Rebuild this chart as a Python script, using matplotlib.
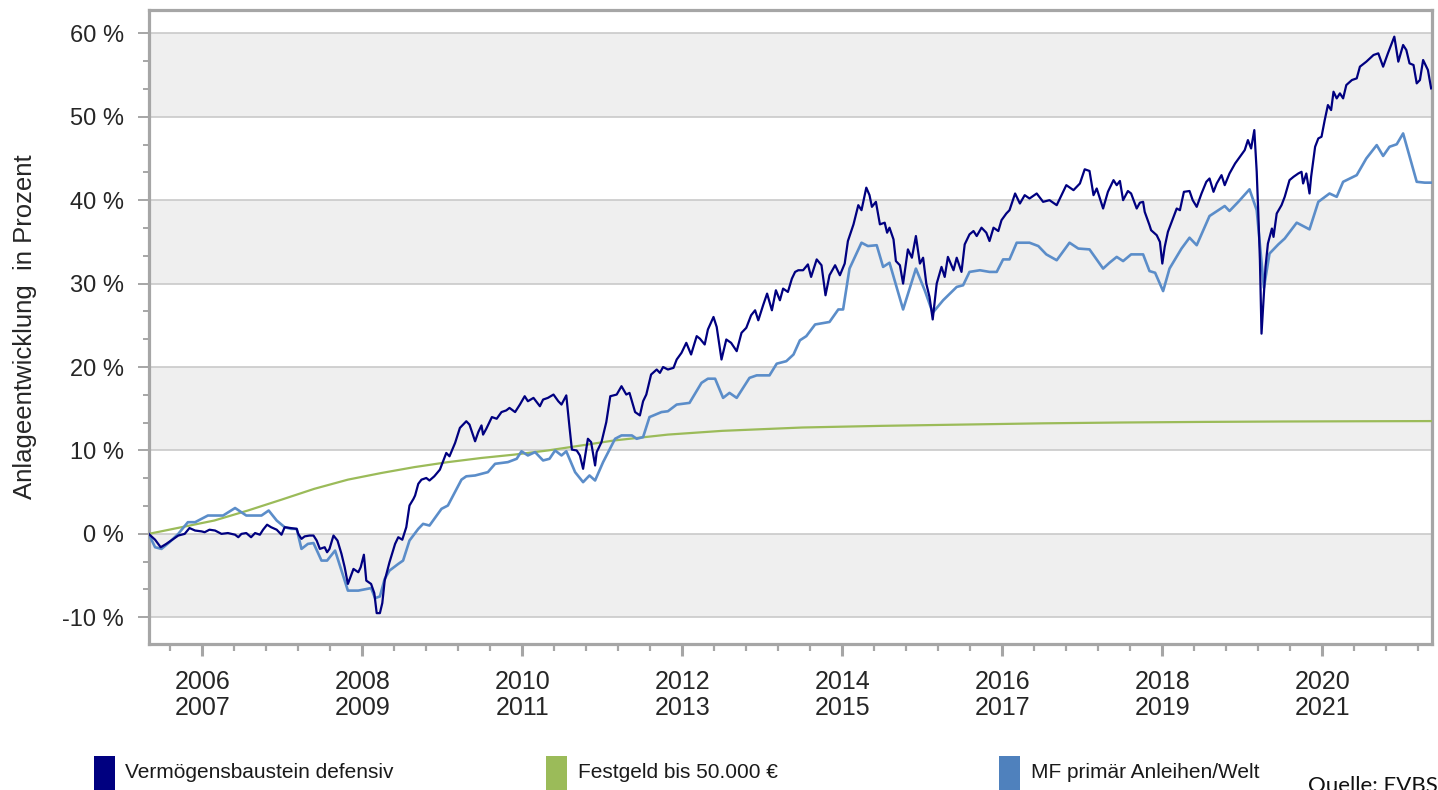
import matplotlib
matplotlib.use("Agg")
import matplotlib.pyplot as plt
from matplotlib.ticker import MultipleLocator, FixedLocator, FixedFormatter
from matplotlib.patches import Rectangle

plt.rcParams['font.family'] = ['Liberation Sans', 'DejaVu Sans']

# ---------------- data (decimal year, percent) ----------------
navy_t = [2005.33, 2005.41, 2005.48, 2005.55, 2005.64, 2005.70, 2005.78, 2005.84, 2005.91, 2005.99,
          2006.03, 2006.09, 2006.16, 2006.24, 2006.32, 2006.41, 2006.45, 2006.49, 2006.55, 2006.61,
          2006.66, 2006.72, 2006.76, 2006.81, 2006.86, 2006.93, 2006.99, 2007.03, 2007.11, 2007.18,
          2007.20, 2007.24, 2007.28, 2007.34, 2007.39, 2007.43, 2007.47, 2007.53, 2007.56, 2007.59,
          2007.64, 2007.69, 2007.74, 2007.78, 2007.82, 2007.89, 2007.95, 2007.98, 2008.02, 2008.05,
          2008.11, 2008.15, 2008.18, 2008.22, 2008.25, 2008.28, 2008.34, 2008.41, 2008.45, 2008.50,
          2008.55, 2008.59, 2008.64, 2008.66, 2008.70, 2008.74, 2008.80, 2008.84, 2008.90, 2008.97,
          2009.01, 2009.05, 2009.09, 2009.16, 2009.22, 2009.30, 2009.34,
          2009.41, 2009.45, 2009.49, 2009.51, 2009.55, 2009.62, 2009.68, 2009.74, 2009.80, 2009.84,
          2009.91, 2009.97, 2010.03, 2010.07, 2010.14, 2010.22, 2010.26, 2010.32, 2010.39, 2010.45,
          2010.49, 2010.55, 2010.59, 2010.62, 2010.68, 2010.72, 2010.76, 2010.80, 2010.82, 2010.86,
          2010.91, 2010.93, 2010.99, 2011.05, 2011.10, 2011.18, 2011.24, 2011.30, 2011.34, 2011.41,
          2011.47, 2011.51, 2011.55, 2011.61, 2011.68, 2011.72, 2011.76, 2011.82, 2011.89, 2011.93,
          2011.99, 2012.05, 2012.11, 2012.18, 2012.22, 2012.28, 2012.32, 2012.39, 2012.43, 2012.49,
          2012.55, 2012.61, 2012.68, 2012.74, 2012.80, 2012.86, 2012.91, 2012.95, 2013.01, 2013.06,
          2013.12, 2013.17, 2013.22, 2013.26, 2013.32, 2013.37, 2013.41,
          2013.45, 2013.51, 2013.57, 2013.61, 2013.68, 2013.74, 2013.79, 2013.84, 2013.91, 2013.97,
          2014.03, 2014.07, 2014.14, 2014.20, 2014.24, 2014.30, 2014.34, 2014.37, 2014.42, 2014.47,
          2014.53, 2014.56, 2014.59, 2014.64, 2014.67, 2014.72, 2014.76, 2014.82, 2014.87, 2014.92,
          2014.97, 2015.01, 2015.05, 2015.09, 2015.13, 2015.18, 2015.24, 2015.28, 2015.32, 2015.39,
          2015.43, 2015.49, 2015.53, 2015.59, 2015.64, 2015.68, 2015.74, 2015.80, 2015.84, 2015.89,
          2015.95, 2015.99, 2016.05, 2016.09, 2016.16, 2016.22, 2016.28, 2016.34, 2016.43, 2016.51,
          2016.59, 2016.68, 2016.74, 2016.80, 2016.89, 2016.97, 2017.03, 2017.09, 2017.14, 2017.18,
          2017.26, 2017.32,
          2017.39, 2017.43, 2017.47, 2017.51, 2017.57, 2017.61, 2017.68, 2017.72, 2017.76, 2017.78,
          2017.84, 2017.86, 2017.93, 2017.97, 2018.00, 2018.03, 2018.07, 2018.14, 2018.18, 2018.22,
          2018.27, 2018.34, 2018.38, 2018.43, 2018.49, 2018.55, 2018.59, 2018.64, 2018.68, 2018.74,
          2018.78, 2018.84, 2018.91, 2018.97, 2019.03, 2019.07, 2019.11, 2019.15, 2019.18, 2019.20,
          2019.22, 2019.24, 2019.26, 2019.29, 2019.32, 2019.37, 2019.39, 2019.43, 2019.49, 2019.53,
          2019.59, 2019.64, 2019.70, 2019.74, 2019.76, 2019.80, 2019.84, 2019.86, 2019.91, 2019.95,
          2019.99, 2020.03, 2020.07, 2020.11, 2020.14, 2020.18, 2020.22, 2020.26, 2020.30, 2020.37,
          2020.43, 2020.47, 2020.55, 2020.64, 2020.70, 2020.76, 2020.82, 2020.90, 2020.95, 2021.01,
          2021.05, 2021.09, 2021.14, 2021.18, 2021.22, 2021.26, 2021.32, 2021.36]
navy_v = [0.0, -0.7, -1.6, -1.2, -0.6, -0.2, 0.0, 0.7, 0.4, 0.3,
          0.2, 0.5, 0.4, 0.0, 0.1, -0.1, -0.4, 0.0, 0.1, -0.4,
          0.1, -0.1, 0.5, 1.1, 0.8, 0.5, -0.1, 0.8, 0.7, 0.6,
          0.0, -0.6, -0.3, -0.2, -0.2, -0.8, -1.8, -1.6, -2.2, -1.8,
          -0.2, -0.8, -2.4, -4.0, -6.0, -4.2, -4.6, -4.0, -2.5, -5.6,
          -6.0, -7.1, -9.5, -9.5, -8.3, -5.6, -3.4, -1.2, -0.4, -0.7,
          0.8, 3.4, 4.2, 4.6, 6.0, 6.5, 6.7, 6.4, 6.9, 7.7,
          8.7, 9.7, 9.3, 10.9, 12.7, 13.5, 13.1,
          11.1, 12.2, 13.0, 11.9, 12.6, 14.0, 13.8, 14.6, 14.8, 15.1,
          14.6, 15.5, 16.5, 15.9, 16.3, 15.3, 16.1, 16.3, 16.7, 15.9,
          15.5, 16.6, 12.8, 10.1, 10.0, 9.4, 7.8, 10.2, 11.4, 11.0,
          8.2, 9.8, 11.0, 13.4, 16.5, 16.7, 17.7, 16.7, 16.9, 14.6,
          14.2, 15.9, 16.7, 19.1, 19.7, 19.3, 20.0, 19.7, 19.9, 20.9,
          21.7, 22.9, 21.5, 23.7, 23.4, 22.7, 24.5, 26.0, 24.8, 20.9,
          23.3, 22.9, 21.9, 24.1, 24.7, 26.2, 26.8, 25.6, 27.4, 28.8,
          26.8, 29.2, 28.0, 29.4, 29.0, 30.6, 31.4,
          31.6, 31.6, 32.3, 30.8, 32.9, 32.2, 28.6, 31.0, 32.2, 31.0,
          32.4, 35.1, 37.1, 39.4, 38.8, 41.5, 40.6, 39.2, 39.8, 37.1,
          37.3, 36.1, 36.7, 35.3, 32.7, 32.2, 30.0, 34.1, 33.1, 35.7,
          32.4, 33.1, 30.0, 28.4, 25.7, 30.0, 32.0, 30.8, 33.2, 31.6,
          33.1, 31.4, 34.7, 35.9, 36.3, 35.7, 36.7, 36.1, 35.1, 36.7,
          36.3, 37.6, 38.4, 38.8, 40.8, 39.6, 40.6, 40.2, 40.8, 39.8,
          40.0, 39.4, 40.6, 41.8, 41.2, 42.0, 43.7, 43.5, 40.6, 41.4,
          39.0, 41.0,
          42.4, 41.8, 42.3, 40.0, 41.1, 40.8, 39.0, 39.7, 39.8, 38.6,
          37.0, 36.4, 35.8, 35.0, 32.4, 34.4, 36.2, 38.0, 39.0, 38.8,
          41.0, 41.1, 40.0, 39.2, 40.8, 42.2, 42.6, 41.0, 42.0, 43.0,
          41.8, 43.2, 44.4, 45.2, 46.0, 47.2, 46.2, 48.4, 43.4, 38.4,
          32.8, 24.0, 27.2, 32.0, 34.8, 36.6, 35.6, 38.4, 39.4, 40.4,
          42.4, 42.8, 43.2, 43.4, 42.0, 43.2, 40.8, 42.8, 46.4, 47.4,
          47.6, 49.6, 51.4, 50.8, 53.0, 52.2, 52.8, 52.2, 53.8, 54.4,
          54.6, 56.0, 56.6, 57.4, 57.6, 56.0, 57.6, 59.6, 56.6, 58.6,
          58.0, 56.4, 56.2, 54.0, 54.4, 56.8, 55.6, 53.4]

mf_t = [2005.33, 2005.41, 2005.49, 2005.59, 2005.70, 2005.82, 2005.91, 2006.07, 2006.26, 2006.41,
        2006.55, 2006.74, 2006.83, 2006.93, 2007.03, 2007.11, 2007.18, 2007.24, 2007.32, 2007.39,
        2007.49, 2007.56, 2007.66, 2007.82, 2007.95, 2008.11, 2008.16, 2008.22, 2008.28, 2008.34,
        2008.45, 2008.51, 2008.59, 2008.70, 2008.76, 2008.84, 2008.99, 2009.07, 2009.24, 2009.30,
        2009.41, 2009.49, 2009.57, 2009.66, 2009.82, 2009.93, 2009.99, 2010.07, 2010.16, 2010.26,
        2010.34, 2010.41, 2010.49, 2010.55, 2010.66, 2010.76, 2010.84, 2010.91, 2011.01, 2011.16,
        2011.24, 2011.37, 2011.43, 2011.51, 2011.59, 2011.74, 2011.82, 2011.93, 2012.09, 2012.24,
        2012.32, 2012.41, 2012.51, 2012.59, 2012.68, 2012.84, 2012.93, 2013.09, 2013.18, 2013.30,
        2013.39, 2013.47, 2013.55, 2013.66, 2013.84, 2013.95, 2014.01, 2014.09, 2014.24, 2014.32,
        2014.43, 2014.51, 2014.59, 2014.76, 2014.92, 2015.03, 2015.13, 2015.26, 2015.43, 2015.51,
        2015.59, 2015.72, 2015.84, 2015.93, 2016.01, 2016.09, 2016.18, 2016.34, 2016.45, 2016.55,
        2016.68, 2016.84, 2016.95, 2017.09, 2017.26, 2017.34, 2017.43, 2017.51, 2017.61, 2017.76,
        2017.84, 2017.91, 2018.01, 2018.09, 2018.24, 2018.34, 2018.43, 2018.59, 2018.78, 2018.84,
        2018.95, 2019.09, 2019.18, 2019.27, 2019.34, 2019.45, 2019.53, 2019.68, 2019.84, 2019.95,
        2020.09, 2020.18, 2020.26, 2020.43, 2020.55, 2020.68, 2020.76, 2020.84, 2020.93, 2021.01,
        2021.18, 2021.28, 2021.36]
mf_v = [0.0, -1.6, -1.8, -1.0, 0.0, 1.4, 1.4, 2.2, 2.2, 3.1,
        2.2, 2.2, 2.8, 1.6, 0.8, 0.6, 0.6, -1.8, -1.2, -1.1,
        -3.2, -3.2, -2.0, -6.8, -6.8, -6.5, -7.7, -7.5, -5.4, -4.4,
        -3.6, -3.2, -0.8, 0.6, 1.2, 1.0, 3.0, 3.4, 6.5, 6.9,
        7.0, 7.2, 7.4, 8.4, 8.6, 9.0, 9.9, 9.4, 9.8, 8.8,
        9.0, 10.0, 9.4, 9.9, 7.4, 6.2, 7.0, 6.4, 8.6, 11.4,
        11.8, 11.8, 11.4, 11.6, 14.0, 14.6, 14.7, 15.5, 15.7, 18.1,
        18.6, 18.6, 16.3, 16.9, 16.3, 18.7, 19.0, 19.0, 20.4, 20.7,
        21.5, 23.2, 23.7, 25.1, 25.4, 26.9, 26.9, 31.8, 34.9, 34.5,
        34.6, 32.0, 32.5, 26.9, 31.8, 29.2, 26.5, 28.0, 29.6, 29.8,
        31.4, 31.6, 31.4, 31.4, 32.9, 32.9, 34.9, 34.9, 34.5, 33.5,
        32.8, 34.9, 34.2, 34.1, 31.8, 32.5, 33.2, 32.7, 33.5, 33.5,
        31.5, 31.3, 29.1, 31.8, 34.2, 35.5, 34.6, 38.1, 39.3, 38.7,
        39.8, 41.3, 38.8, 29.5, 33.6, 34.7, 35.4, 37.3, 36.5, 39.8,
        40.8, 40.4, 42.2, 43.0, 45.0, 46.6, 45.3, 46.4, 46.7, 48.0,
        42.2, 42.1, 42.1]

fest_t = [2005.33, 2005.74, 2006.15, 2006.57, 2006.99, 2007.40, 2007.82, 2008.24, 2008.65, 2009.07,
          2009.49, 2009.90, 2010.32, 2010.74, 2011.15, 2011.82, 2012.50, 2013.50, 2014.50, 2015.50,
          2016.50, 2017.50, 2018.50, 2019.50, 2020.50, 2021.36]
fest_v = [0.0, 0.8, 1.6, 2.8, 4.1, 5.4, 6.5, 7.3, 8.0, 8.6,
          9.1, 9.5, 10.0, 10.6, 11.2, 11.9, 12.35, 12.75, 12.95, 13.1,
          13.25, 13.35, 13.42, 13.47, 13.5, 13.52]

xtick_pos = [2006, 2008, 2010, 2012, 2014, 2016, 2018, 2020]
xtick_labels = ["2006\n2007", "2008\n2009", "2010\n2011", "2012\n2013",
                "2014\n2015", "2016\n2017", "2018\n2019", "2020\n2021"]
ytick_pos = [-10, 0, 10, 20, 30, 40, 50, 60]
ytick_labels = ["-10 %", "0 %", "10 %", "20 %", "30 %", "40 %", "50 %", "60 %"]
band_ranges = [(-10, 0), (10, 20), (30, 40), (50, 60)]

series_names = ["Vermögensbaustein defensiv", "Festgeld bis 50.000 €", "MF primär Anleihen/Welt"]
series_colors = ["#000080", "#9bbb59", "#4f81bd"]
line_colors = ["#000080", "#9bbb59", "#5b8dc9"]

# ---------------- figure ----------------
W, H = 1438, 790
fig = plt.figure(figsize=(W / 100, H / 100), dpi=100)
ax = fig.add_axes([149 / W, 1 - 644 / H, (1432 - 149) / W, (644 - 9.7) / H])

ax.set_xlim(2005.334, 2021.371)
ax.set_ylim(-13.2, 62.83)

for lo, hi in band_ranges:
    ax.axhspan(lo, hi, color="#efefef", zorder=0, lw=0)
for y in ytick_pos:
    ax.axhline(y, color="#c9c9c9", lw=1.2, zorder=1)

ax.plot(fest_t, fest_v, color=line_colors[1], lw=1.6, zorder=3)
ax.plot(mf_t, mf_v, color=line_colors[2], lw=1.9, zorder=4)
ax.plot(navy_t, navy_v, color=line_colors[0], lw=1.6, zorder=5)

for s in ax.spines.values():
    s.set_color("#a6a6a6")
    s.set_linewidth(2.3)

ax.yaxis.set_major_locator(FixedLocator(ytick_pos))
ax.yaxis.set_major_formatter(FixedFormatter(ytick_labels))
ax.yaxis.set_minor_locator(MultipleLocator(10 / 3))
ax.xaxis.set_major_locator(FixedLocator(xtick_pos))
ax.xaxis.set_major_formatter(FixedFormatter(xtick_labels))
ax.xaxis.set_minor_locator(MultipleLocator(0.4))

ax.tick_params(axis="y", which="major", length=8, width=1.4, color="#a6a6a6",
               pad=10, labelsize=17, labelcolor="#262626")
ax.tick_params(axis="y", which="minor", length=4, width=1.4, color="#a6a6a6")
ax.tick_params(axis="x", which="major", length=8.5, width=2.2, color="#a6a6a6",
               pad=10, labelsize=18, labelcolor="#262626")
ax.tick_params(axis="x", which="minor", length=5, width=1.6, color="#a6a6a6")
for lbl in ax.get_xticklabels():
    lbl.set_linespacing(1.13)

fig.text(25 / W, 1 - 327 / H, "Anlageentwicklung  in Prozent", rotation=90,
         ha="center", va="center", fontsize=18.5, color="#262626")

# legend
rect_x = [94, 546, 999]
text_x = [125, 578, 1031]
for name, col, rx, tx in zip(series_names, series_colors, rect_x, text_x):
    fig.add_artist(Rectangle((rx / W, 0), 21 / W, 34 / H, transform=fig.transFigure,
                             facecolor=col, edgecolor="none"))
    fig.text(tx / W, 1 - 772 / H, name, ha="left", va="center", fontsize=15,
             color="#1a1a1a")

fig.text(1308 / W, 1 - 792 / H, "Quelle: EVBS", ha="left", va="baseline",
         fontsize=16, family=["Lato", "DejaVu Sans"], color="#111111")

fig.savefig("out.png", dpi=100)
